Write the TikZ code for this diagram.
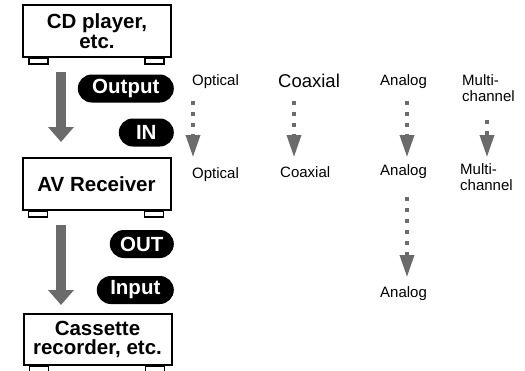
\documentclass[tikz,border=0pt]{standalone}
\usepackage{fontspec}
\setmainfont{Liberation Sans}
\usetikzlibrary{arrows.meta,positioning}
\definecolor{ink}{HTML}{000000}
\definecolor{pipe}{HTML}{6B6B6B}

\begin{document}
\begin{tikzpicture}[x=1pt,y=-1pt,
 unit/.style={draw=ink,line width=2pt,minimum width=148pt,minimum height=52pt,align=center,inner sep=0pt,font=\fontsize{20.5}{19.5}\selectfont\bfseries},
 foot/.style={draw=ink,line width=1.5pt},
 tag/.style={fill=ink,text=white,rounded corners=14pt,minimum height=28pt,inner xsep=6pt,inner ysep=0pt,anchor=east,font=\fontsize{20.5}{20.5}\selectfont\bfseries},
 lbl/.style={anchor=base west,inner sep=0pt,align=left,font=\fontsize{15}{16}\selectfont},
 flow/.style={pipe,line width=10pt,-{Triangle[width=25pt,length=15pt]}},
 link/.style={pipe,line width=3.5pt,dash pattern=on 3.5pt off 7.5pt,-{Triangle[width=14pt,length=22pt]}}]
\useasboundingbox (0,0) rectangle (525,370);
% the three units
\node[unit] (cd) at (97,31) {CD player,\\etc.};
\node[unit] (av) at (96.5,184) {AV Receiver};
\node[unit,minimum height=51pt] (tape) at (97.5,339.5) {Cassette\\recorder, etc.};
\foreach \u in {cd,av,tape} {
 \draw[foot] ([xshift=7pt]\u.south west) rectangle ++(19,6);
 \draw[foot] ([xshift=-27pt]\u.south east) rectangle ++(19,6);
}
% jack tags
\node[tag,minimum width=96pt] (output) at (174,88.5) {Output};
\node[tag,minimum width=55pt] (in) at (174,132.5) {IN};
\node[tag,minimum width=64pt] (out) at (174,244) {OUT};
\node[tag,minimum width=77pt] (input) at (174,290) {Input};
% signal flow
\coordinate (cdjack) at (61,72);
\coordinate (avjack) at (61,142);
\coordinate (avout) at (61,225);
\coordinate (tapejack) at (61,305);
\draw[flow] (cdjack) -- (avjack);
\draw[flow] (avout) -- (tapejack);
% connection types (base = last line)
\node[lbl] (opt1) at (192,85) {Optical};
\node[lbl,font=\fontsize{18.5}{18.5}\selectfont] (coax1) at (278,87) {Coaxial};
\node[lbl] (ana1) at (380,85) {Analog};
\node[lbl] (multi1) at (462,101) {Multi-\\channel};
\node[lbl] (opt2) at (192,178) {Optical};
\node[lbl] (coax2) at (280,177) {Coaxial};
\node[lbl] (ana2) at (380,175) {Analog};
\node[lbl] (multi2) at (460,190) {Multi-\\channel};
\node[lbl] (ana3) at (380,297) {Analog};
\coordinate (optA) at (193,101); \coordinate (optB) at (193,157);
\coordinate (coaxA) at (294,101); \coordinate (coaxB) at (294,157);
\coordinate (anaA) at (407,101); \coordinate (anaB) at (407,157);
\coordinate (multiA) at (487,120); \coordinate (multiB) at (487,157);
\coordinate (anaC) at (407,197); \coordinate (anaD) at (407,277);
\draw[link] (optA) -- (optB);
\draw[link] (coaxA) -- (coaxB);
\draw[link] (anaA) -- (anaB);
\draw[link] (multiA) -- (multiB);
\draw[link] (anaC) -- (anaD);
\end{tikzpicture}
\end{document}
